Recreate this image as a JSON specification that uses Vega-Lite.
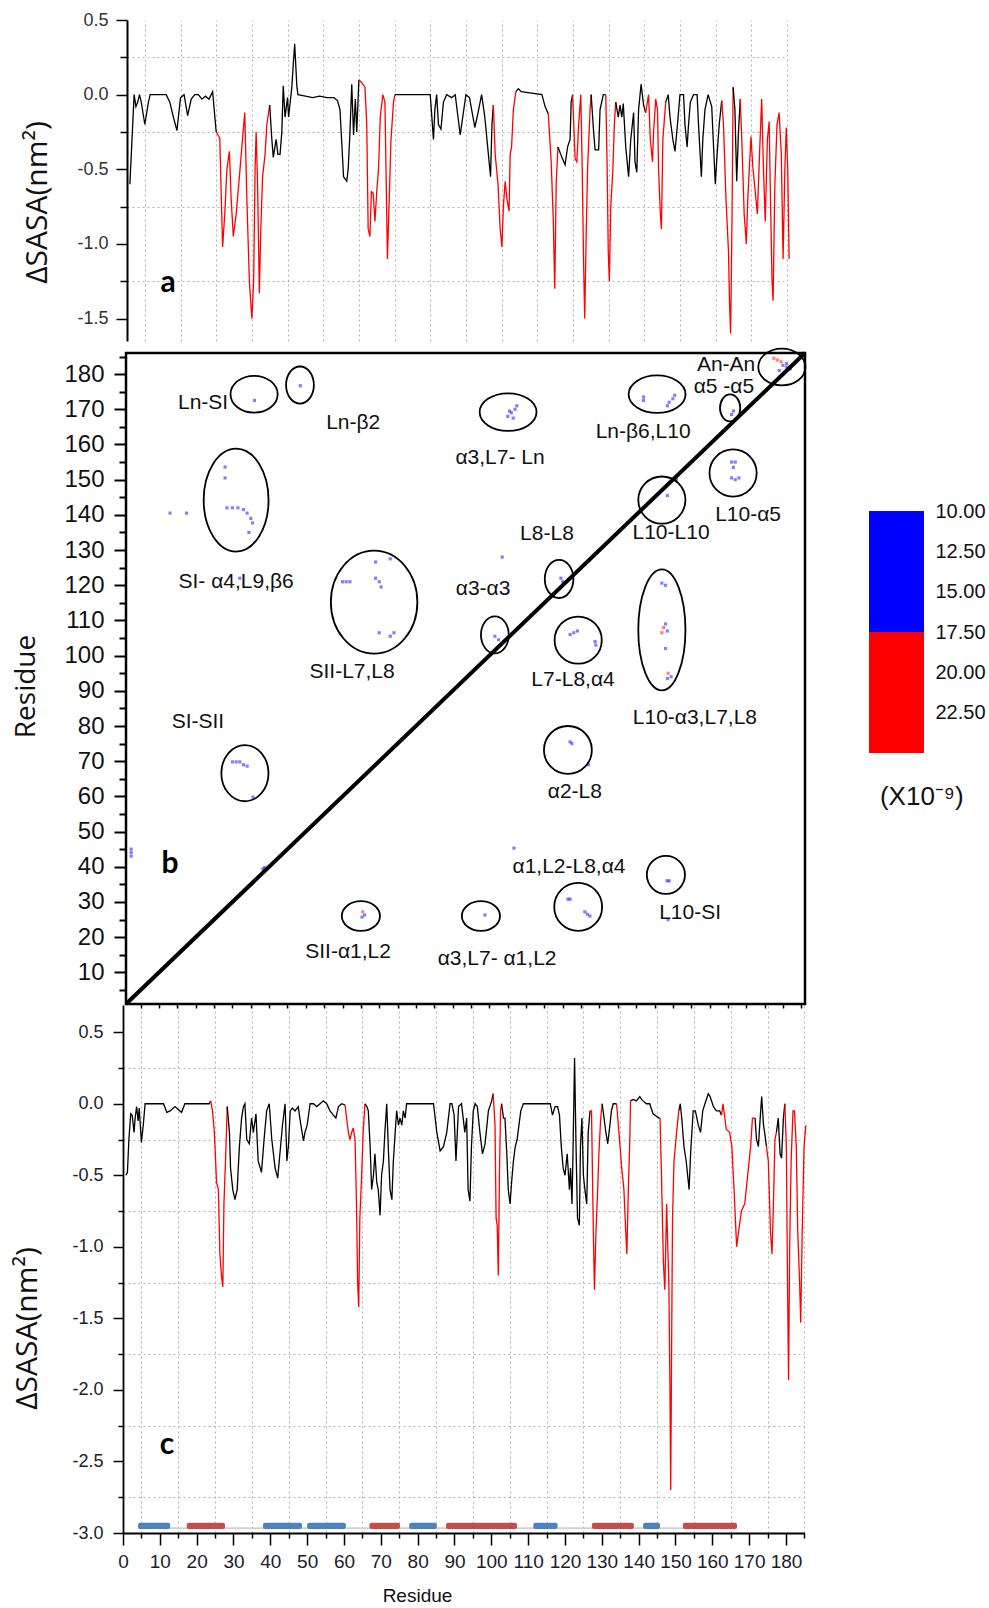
{
"$schema": "https://vega.github.io/schema/vega-lite/v6.json",
"width": 989, "height": 1608,
"autosize": {"type": "none"},
"padding": 0,
"background": "white",
"config": {
  "view": {"stroke": null},
  "axis": {"labelFont": "Liberation Sans", "titleFont": "Open Sans", "titleFontWeight": "normal", "domainColor": "#000", "tickColor": "#000", "labelOverlap": false, "labelFlush": false, "gridColor": "#b3b3b3", "gridDash": [2, 3], "gridWidth": 1, "labelColor": "#222", "titleColor": "#111"}
},
"datasets": {
"panelA": [
{"res":0.8,"dsasa":-0.6,"seg":1,"region":"other"},{"res":1.5,"dsasa":-0.25,"seg":1,"region":"other"},{"res":2,"dsasa":0,"seg":1,"region":"other"},{"res":2.5,"dsasa":-0.08,"seg":1,"region":"other"},{"res":3,"dsasa":-0.05,"seg":1,"region":"other"},{"res":3.5,"dsasa":0,"seg":1,"region":"other"},{"res":4,"dsasa":-0.05,"seg":1,"region":"other"},{"res":5,"dsasa":-0.2,"seg":1,"region":"other"},{"res":6,"dsasa":-0.05,"seg":1,"region":"other"},{"res":6.5,"dsasa":0,"seg":1,"region":"other"},{"res":11,"dsasa":0,"seg":1,"region":"other"},{"res":12,"dsasa":-0.05,"seg":1,"region":"other"},{"res":13,"dsasa":-0.15,"seg":1,"region":"other"},{"res":14,"dsasa":-0.24,"seg":1,"region":"other"},{"res":15,"dsasa":-0.02,"seg":1,"region":"other"},{"res":16,"dsasa":0,"seg":1,"region":"other"},{"res":17,"dsasa":-0.14,"seg":1,"region":"other"},{"res":18,"dsasa":-0.03,"seg":1,"region":"other"},{"res":19,"dsasa":0,"seg":1,"region":"other"},{"res":20,"dsasa":0,"seg":1,"region":"other"},{"res":21,"dsasa":-0.03,"seg":1,"region":"other"},{"res":22,"dsasa":-0.01,"seg":1,"region":"other"},{"res":23,"dsasa":-0.03,"seg":1,"region":"other"},{"res":24,"dsasa":0.02,"seg":1,"region":"other"},{"res":25,"dsasa":-0.25,"seg":1,"region":"other"},
{"res":25,"dsasa":-0.25,"seg":2,"region":"interface"},{"res":26,"dsasa":-0.29,"seg":2,"region":"interface"},{"res":26.8,"dsasa":-1.02,"seg":2,"region":"interface"},{"res":27.4,"dsasa":-0.8,"seg":2,"region":"interface"},{"res":28,"dsasa":-0.5,"seg":2,"region":"interface"},{"res":28.7,"dsasa":-0.38,"seg":2,"region":"interface"},{"res":29.2,"dsasa":-0.7,"seg":2,"region":"interface"},{"res":29.8,"dsasa":-0.95,"seg":2,"region":"interface"},{"res":30.6,"dsasa":-0.8,"seg":2,"region":"interface"},{"res":31.5,"dsasa":-0.55,"seg":2,"region":"interface"},{"res":32.2,"dsasa":-0.35,"seg":2,"region":"interface"},{"res":33,"dsasa":-0.12,"seg":2,"region":"interface"},{"res":33.6,"dsasa":-0.7,"seg":2,"region":"interface"},{"res":34.3,"dsasa":-1.25,"seg":2,"region":"interface"},{"res":35,"dsasa":-1.5,"seg":2,"region":"interface"},{"res":35.5,"dsasa":-1.25,"seg":2,"region":"interface"},{"res":35.9,"dsasa":-0.5,"seg":2,"region":"interface"},{"res":36.2,"dsasa":-0.25,"seg":2,"region":"interface"},{"res":36.6,"dsasa":-0.6,"seg":2,"region":"interface"},{"res":37.1,"dsasa":-1.33,"seg":2,"region":"interface"},{"res":37.5,"dsasa":-0.9,"seg":2,"region":"interface"},{"res":38,"dsasa":-0.55,"seg":2,"region":"interface"},{"res":38.7,"dsasa":-0.4,"seg":2,"region":"interface"},{"res":39.2,"dsasa":-0.2,"seg":2,"region":"interface"},{"res":40,"dsasa":-0.07,"seg":2,"region":"interface"},
{"res":40,"dsasa":-0.07,"seg":3,"region":"other"},{"res":40.6,"dsasa":-0.3,"seg":3,"region":"other"},{"res":41,"dsasa":-0.42,"seg":3,"region":"other"},{"res":41.8,"dsasa":-0.3,"seg":3,"region":"other"},{"res":42.3,"dsasa":-0.4,"seg":3,"region":"other"},{"res":42.9,"dsasa":-0.4,"seg":3,"region":"other"},{"res":43.4,"dsasa":-0.25,"seg":3,"region":"other"},{"res":43.8,"dsasa":0.06,"seg":3,"region":"other"},{"res":44.3,"dsasa":-0.15,"seg":3,"region":"other"},{"res":45,"dsasa":-0.02,"seg":3,"region":"other"},{"res":45.3,"dsasa":-0.15,"seg":3,"region":"other"},{"res":46.2,"dsasa":0.05,"seg":3,"region":"other"},{"res":46.6,"dsasa":0.2,"seg":3,"region":"other"},{"res":47,"dsasa":0.34,"seg":3,"region":"other"},{"res":47.6,"dsasa":0.06,"seg":3,"region":"other"},{"res":47.9,"dsasa":0,"seg":3,"region":"other"},{"res":50,"dsasa":-0.01,"seg":3,"region":"other"},{"res":52,"dsasa":-0.02,"seg":3,"region":"other"},{"res":54,"dsasa":-0.01,"seg":3,"region":"other"},{"res":56,"dsasa":-0.02,"seg":3,"region":"other"},{"res":58,"dsasa":-0.02,"seg":3,"region":"other"},{"res":59,"dsasa":-0.04,"seg":3,"region":"other"},{"res":59.7,"dsasa":-0.1,"seg":3,"region":"other"},{"res":60.7,"dsasa":-0.55,"seg":3,"region":"other"},{"res":61.6,"dsasa":-0.58,"seg":3,"region":"other"},{"res":62,"dsasa":-0.5,"seg":3,"region":"other"},{"res":62.5,"dsasa":-0.25,"seg":3,"region":"other"},{"res":63,"dsasa":0.07,"seg":3,"region":"other"},{"res":63.5,"dsasa":-0.27,"seg":3,"region":"other"},{"res":64,"dsasa":-0.03,"seg":3,"region":"other"},{"res":64.4,"dsasa":-0.25,"seg":3,"region":"other"},{"res":65,"dsasa":0.1,"seg":3,"region":"other"},
{"res":65,"dsasa":0.1,"seg":4,"region":"interface"},{"res":65.8,"dsasa":0.08,"seg":4,"region":"interface"},{"res":66.7,"dsasa":0.05,"seg":4,"region":"interface"},{"res":67.2,"dsasa":-0.2,"seg":4,"region":"interface"},{"res":67.6,"dsasa":-0.9,"seg":4,"region":"interface"},{"res":68.1,"dsasa":-0.95,"seg":4,"region":"interface"},{"res":68.5,"dsasa":-0.65,"seg":4,"region":"interface"},{"res":69,"dsasa":-0.66,"seg":4,"region":"interface"},{"res":69.5,"dsasa":-0.85,"seg":4,"region":"interface"},{"res":70,"dsasa":-0.65,"seg":4,"region":"interface"},{"res":70.5,"dsasa":-0.5,"seg":4,"region":"interface"},{"res":71,"dsasa":-0.15,"seg":4,"region":"interface"},{"res":71.7,"dsasa":0,"seg":4,"region":"interface"},{"res":72.3,"dsasa":-0.05,"seg":4,"region":"interface"},{"res":72.8,"dsasa":-0.8,"seg":4,"region":"interface"},{"res":73,"dsasa":-1.1,"seg":4,"region":"interface"},{"res":73.5,"dsasa":-0.7,"seg":4,"region":"interface"},{"res":74,"dsasa":-0.3,"seg":4,"region":"interface"},{"res":74.7,"dsasa":-0.05,"seg":4,"region":"interface"},{"res":75.1,"dsasa":0,"seg":4,"region":"interface"},
{"res":75.1,"dsasa":0,"seg":5,"region":"other"},{"res":85,"dsasa":0,"seg":5,"region":"other"},{"res":85.9,"dsasa":-0.3,"seg":5,"region":"other"},{"res":86.3,"dsasa":-0.1,"seg":5,"region":"other"},{"res":86.8,"dsasa":0,"seg":5,"region":"other"},{"res":87.3,"dsasa":-0.2,"seg":5,"region":"other"},{"res":88,"dsasa":-0.23,"seg":5,"region":"other"},{"res":88.7,"dsasa":-0.05,"seg":5,"region":"other"},{"res":89.6,"dsasa":0,"seg":5,"region":"other"},{"res":91,"dsasa":-0.02,"seg":5,"region":"other"},{"res":92,"dsasa":0,"seg":5,"region":"other"},{"res":93.4,"dsasa":-0.27,"seg":5,"region":"other"},{"res":95,"dsasa":0,"seg":5,"region":"other"},{"res":96,"dsasa":-0.02,"seg":5,"region":"other"},{"res":97.5,"dsasa":-0.22,"seg":5,"region":"other"},{"res":98.4,"dsasa":-0.12,"seg":5,"region":"other"},{"res":99.4,"dsasa":0,"seg":5,"region":"other"},{"res":100.3,"dsasa":-0.15,"seg":5,"region":"other"},{"res":101.3,"dsasa":-0.4,"seg":5,"region":"other"},{"res":101.9,"dsasa":-0.55,"seg":5,"region":"other"},{"res":102.3,"dsasa":-0.2,"seg":5,"region":"other"},{"res":102.7,"dsasa":-0.07,"seg":5,"region":"other"},
{"res":102.7,"dsasa":-0.07,"seg":6,"region":"interface"},{"res":103.2,"dsasa":-0.4,"seg":6,"region":"interface"},{"res":104,"dsasa":-0.6,"seg":6,"region":"interface"},{"res":104.6,"dsasa":-0.9,"seg":6,"region":"interface"},{"res":105.1,"dsasa":-1.02,"seg":6,"region":"interface"},{"res":105.5,"dsasa":-0.75,"seg":6,"region":"interface"},{"res":106,"dsasa":-0.58,"seg":6,"region":"interface"},{"res":106.5,"dsasa":-0.7,"seg":6,"region":"interface"},{"res":107.1,"dsasa":-0.78,"seg":6,"region":"interface"},{"res":107.4,"dsasa":-0.4,"seg":6,"region":"interface"},{"res":107.8,"dsasa":-0.35,"seg":6,"region":"interface"},{"res":108.3,"dsasa":-0.1,"seg":6,"region":"interface"},{"res":109,"dsasa":0.02,"seg":6,"region":"interface"},
{"res":109,"dsasa":0.02,"seg":7,"region":"other"},{"res":109.7,"dsasa":0.04,"seg":7,"region":"other"},{"res":110.5,"dsasa":0.02,"seg":7,"region":"other"},{"res":116.3,"dsasa":0,"seg":7,"region":"other"},{"res":117.2,"dsasa":-0.08,"seg":7,"region":"other"},{"res":118.1,"dsasa":-0.13,"seg":7,"region":"other"},
{"res":118.1,"dsasa":-0.13,"seg":8,"region":"interface"},{"res":118.9,"dsasa":-0.45,"seg":8,"region":"interface"},{"res":119.5,"dsasa":-0.85,"seg":8,"region":"interface"},{"res":119.9,"dsasa":-1.3,"seg":8,"region":"interface"},{"res":120.3,"dsasa":-0.6,"seg":8,"region":"interface"},{"res":120.8,"dsasa":-0.35,"seg":8,"region":"interface"},
{"res":120.8,"dsasa":-0.35,"seg":9,"region":"other"},{"res":121.9,"dsasa":-0.42,"seg":9,"region":"other"},{"res":122.8,"dsasa":-0.47,"seg":9,"region":"other"},{"res":123.5,"dsasa":-0.35,"seg":9,"region":"other"},{"res":124.2,"dsasa":-0.3,"seg":9,"region":"other"},{"res":124.5,"dsasa":-0.05,"seg":9,"region":"other"},{"res":124.9,"dsasa":0,"seg":9,"region":"other"},
{"res":124.9,"dsasa":0,"seg":10,"region":"interface"},{"res":125.6,"dsasa":-0.43,"seg":10,"region":"interface"},{"res":126.1,"dsasa":-0.45,"seg":10,"region":"interface"},{"res":126.6,"dsasa":-0.2,"seg":10,"region":"interface"},{"res":127.2,"dsasa":0,"seg":10,"region":"interface"},{"res":127.6,"dsasa":-0.5,"seg":10,"region":"interface"},{"res":128,"dsasa":-1.15,"seg":10,"region":"interface"},{"res":128.3,"dsasa":-1.5,"seg":10,"region":"interface"},{"res":128.7,"dsasa":-0.95,"seg":10,"region":"interface"},{"res":129.1,"dsasa":-0.5,"seg":10,"region":"interface"},{"res":129.8,"dsasa":-0.1,"seg":10,"region":"interface"},{"res":130.1,"dsasa":0,"seg":10,"region":"interface"},
{"res":130.1,"dsasa":0,"seg":11,"region":"other"},{"res":130.8,"dsasa":-0.25,"seg":11,"region":"other"},{"res":131.2,"dsasa":-0.37,"seg":11,"region":"other"},{"res":132.2,"dsasa":-0.37,"seg":11,"region":"other"},{"res":132.6,"dsasa":-0.1,"seg":11,"region":"other"},{"res":133.5,"dsasa":0,"seg":11,"region":"other"},{"res":134.2,"dsasa":0,"seg":11,"region":"other"},
{"res":134.2,"dsasa":0,"seg":12,"region":"interface"},{"res":134.6,"dsasa":-0.5,"seg":12,"region":"interface"},{"res":134.9,"dsasa":-1.05,"seg":12,"region":"interface"},{"res":135.2,"dsasa":-1.25,"seg":12,"region":"interface"},{"res":135.6,"dsasa":-0.75,"seg":12,"region":"interface"},{"res":136.2,"dsasa":-0.5,"seg":12,"region":"interface"},{"res":136.6,"dsasa":-0.2,"seg":12,"region":"interface"},{"res":137,"dsasa":-0.05,"seg":12,"region":"interface"},
{"res":137,"dsasa":-0.05,"seg":13,"region":"other"},{"res":137.7,"dsasa":-0.15,"seg":13,"region":"other"},{"res":138.2,"dsasa":-0.07,"seg":13,"region":"other"},{"res":138.7,"dsasa":-0.15,"seg":13,"region":"other"},{"res":139.1,"dsasa":-0.06,"seg":13,"region":"other"},{"res":139.8,"dsasa":-0.35,"seg":13,"region":"other"},{"res":140.6,"dsasa":-0.55,"seg":13,"region":"other"},{"res":141.2,"dsasa":-0.3,"seg":13,"region":"other"},{"res":142,"dsasa":-0.12,"seg":13,"region":"other"},{"res":142.4,"dsasa":-0.45,"seg":13,"region":"other"},{"res":142.9,"dsasa":-0.52,"seg":13,"region":"other"},{"res":143.4,"dsasa":-0.1,"seg":13,"region":"other"},{"res":144.1,"dsasa":0.07,"seg":13,"region":"other"},{"res":144.8,"dsasa":-0.07,"seg":13,"region":"other"},{"res":145.4,"dsasa":-0.12,"seg":13,"region":"other"},
{"res":145.4,"dsasa":-0.12,"seg":14,"region":"interface"},{"res":146.2,"dsasa":0,"seg":14,"region":"interface"},{"res":146.7,"dsasa":-0.3,"seg":14,"region":"interface"},{"res":147.3,"dsasa":-0.45,"seg":14,"region":"interface"},{"res":147.6,"dsasa":-0.25,"seg":14,"region":"interface"},{"res":148.2,"dsasa":-0.03,"seg":14,"region":"interface"},{"res":148.7,"dsasa":-0.1,"seg":14,"region":"interface"},{"res":149,"dsasa":-0.5,"seg":14,"region":"interface"},{"res":149.5,"dsasa":-0.8,"seg":14,"region":"interface"},{"res":149.8,"dsasa":-0.9,"seg":14,"region":"interface"},{"res":150.2,"dsasa":-0.3,"seg":14,"region":"interface"},{"res":151,"dsasa":-0.05,"seg":14,"region":"interface"},
{"res":151,"dsasa":-0.05,"seg":15,"region":"other"},{"res":151.7,"dsasa":0,"seg":15,"region":"other"},{"res":152.2,"dsasa":-0.15,"seg":15,"region":"other"},{"res":153,"dsasa":-0.3,"seg":15,"region":"other"},{"res":153.6,"dsasa":-0.38,"seg":15,"region":"other"},{"res":154.3,"dsasa":-0.2,"seg":15,"region":"other"},{"res":155,"dsasa":0,"seg":15,"region":"other"},{"res":156,"dsasa":0,"seg":15,"region":"other"},{"res":156.4,"dsasa":-0.2,"seg":15,"region":"other"},{"res":157,"dsasa":-0.35,"seg":15,"region":"other"},{"res":157.4,"dsasa":-0.2,"seg":15,"region":"other"},{"res":157.9,"dsasa":-0.05,"seg":15,"region":"other"},{"res":158.8,"dsasa":0,"seg":15,"region":"other"},{"res":159.8,"dsasa":0,"seg":15,"region":"other"},{"res":160.2,"dsasa":-0.2,"seg":15,"region":"other"},{"res":161,"dsasa":-0.55,"seg":15,"region":"other"},{"res":161.4,"dsasa":-0.3,"seg":15,"region":"other"},{"res":162,"dsasa":-0.1,"seg":15,"region":"other"},{"res":162.9,"dsasa":0,"seg":15,"region":"other"},{"res":163.9,"dsasa":-0.08,"seg":15,"region":"other"},{"res":164.9,"dsasa":-0.6,"seg":15,"region":"other"},{"res":165.4,"dsasa":-0.4,"seg":15,"region":"other"},{"res":166,"dsasa":-0.2,"seg":15,"region":"other"},{"res":166.7,"dsasa":-0.04,"seg":15,"region":"other"},
{"res":166.7,"dsasa":-0.04,"seg":16,"region":"interface"},{"res":167.2,"dsasa":-0.2,"seg":16,"region":"interface"},{"res":167.9,"dsasa":-0.7,"seg":16,"region":"interface"},{"res":168.6,"dsasa":-1.05,"seg":16,"region":"interface"},{"res":168.9,"dsasa":-1.4,"seg":16,"region":"interface"},{"res":169.2,"dsasa":-1.6,"seg":16,"region":"interface"},{"res":169.6,"dsasa":-0.8,"seg":16,"region":"interface"},{"res":169.9,"dsasa":0.05,"seg":16,"region":"interface"},
{"res":169.9,"dsasa":0.05,"seg":17,"region":"other"},{"res":170.4,"dsasa":-0.1,"seg":17,"region":"other"},{"res":170.9,"dsasa":-0.58,"seg":17,"region":"other"},{"res":171.4,"dsasa":-0.25,"seg":17,"region":"other"},{"res":171.9,"dsasa":-0.03,"seg":17,"region":"other"},
{"res":171.9,"dsasa":-0.03,"seg":18,"region":"interface"},{"res":172.4,"dsasa":-0.35,"seg":18,"region":"interface"},{"res":173,"dsasa":-0.8,"seg":18,"region":"interface"},{"res":173.6,"dsasa":-1.0,"seg":18,"region":"interface"},{"res":174,"dsasa":-0.7,"seg":18,"region":"interface"},{"res":174.9,"dsasa":-0.28,"seg":18,"region":"interface"},{"res":175.4,"dsasa":-0.48,"seg":18,"region":"interface"},{"res":176.1,"dsasa":-0.65,"seg":18,"region":"interface"},{"res":176.7,"dsasa":-0.8,"seg":18,"region":"interface"},{"res":177.3,"dsasa":-0.4,"seg":18,"region":"interface"},{"res":177.9,"dsasa":-0.03,"seg":18,"region":"interface"},{"res":178.4,"dsasa":-0.5,"seg":18,"region":"interface"},{"res":178.9,"dsasa":-0.85,"seg":18,"region":"interface"},{"res":179.5,"dsasa":-0.3,"seg":18,"region":"interface"},{"res":180,"dsasa":-0.18,"seg":18,"region":"interface"},{"res":180.3,"dsasa":-0.6,"seg":18,"region":"interface"},{"res":180.8,"dsasa":-1.25,"seg":18,"region":"interface"},{"res":181.1,"dsasa":-1.38,"seg":18,"region":"interface"},{"res":181.6,"dsasa":-0.6,"seg":18,"region":"interface"},{"res":182.2,"dsasa":-0.2,"seg":18,"region":"interface"},{"res":182.8,"dsasa":-0.12,"seg":18,"region":"interface"},{"res":183.4,"dsasa":-0.4,"seg":18,"region":"interface"},{"res":183.9,"dsasa":-1.1,"seg":18,"region":"interface"},{"res":184.4,"dsasa":-0.5,"seg":18,"region":"interface"},{"res":184.8,"dsasa":-0.22,"seg":18,"region":"interface"},{"res":185.2,"dsasa":-0.5,"seg":18,"region":"interface"},{"res":185.6,"dsasa":-1.1,"seg":18,"region":"interface"}
],
"panelC": [
{"res":0.8,"dsasa":-0.5,"seg":1,"region":"other"},{"res":1.2,"dsasa":-0.48,"seg":1,"region":"other"},{"res":1.6,"dsasa":-0.25,"seg":1,"region":"other"},{"res":2.1,"dsasa":-0.07,"seg":1,"region":"other"},{"res":2.5,"dsasa":-0.08,"seg":1,"region":"other"},{"res":3,"dsasa":-0.2,"seg":1,"region":"other"},{"res":3.3,"dsasa":-0.1,"seg":1,"region":"other"},{"res":3.7,"dsasa":-0.02,"seg":1,"region":"other"},{"res":4.1,"dsasa":-0.12,"seg":1,"region":"other"},{"res":4.4,"dsasa":-0.03,"seg":1,"region":"other"},{"res":5,"dsasa":-0.27,"seg":1,"region":"other"},{"res":5.5,"dsasa":-0.15,"seg":1,"region":"other"},{"res":6,"dsasa":0,"seg":1,"region":"other"},{"res":11,"dsasa":0,"seg":1,"region":"other"},{"res":11.9,"dsasa":-0.06,"seg":1,"region":"other"},{"res":12.8,"dsasa":-0.05,"seg":1,"region":"other"},{"res":14.1,"dsasa":-0.02,"seg":1,"region":"other"},{"res":15,"dsasa":-0.04,"seg":1,"region":"other"},{"res":15.9,"dsasa":-0.06,"seg":1,"region":"other"},{"res":16.8,"dsasa":0,"seg":1,"region":"other"},{"res":23.4,"dsasa":0,"seg":1,"region":"other"},{"res":23.8,"dsasa":0.02,"seg":1,"region":"other"},
{"res":23.8,"dsasa":0.02,"seg":2,"region":"interface"},{"res":24.3,"dsasa":-0.05,"seg":2,"region":"interface"},{"res":24.8,"dsasa":-0.2,"seg":2,"region":"interface"},{"res":25.4,"dsasa":-0.55,"seg":2,"region":"interface"},{"res":25.9,"dsasa":-0.6,"seg":2,"region":"interface"},{"res":26.3,"dsasa":-1.05,"seg":2,"region":"interface"},{"res":26.8,"dsasa":-1.22,"seg":2,"region":"interface"},{"res":27.1,"dsasa":-1.28,"seg":2,"region":"interface"},{"res":27.4,"dsasa":-0.7,"seg":2,"region":"interface"},{"res":27.9,"dsasa":-0.35,"seg":2,"region":"interface"},{"res":28.3,"dsasa":-0.02,"seg":2,"region":"interface"},
{"res":28.3,"dsasa":-0.02,"seg":3,"region":"other"},{"res":28.9,"dsasa":-0.2,"seg":3,"region":"other"},{"res":29.2,"dsasa":-0.45,"seg":3,"region":"other"},{"res":29.8,"dsasa":-0.6,"seg":3,"region":"other"},{"res":30.4,"dsasa":-0.67,"seg":3,"region":"other"},{"res":31,"dsasa":-0.6,"seg":3,"region":"other"},{"res":31.6,"dsasa":-0.3,"seg":3,"region":"other"},{"res":32.2,"dsasa":-0.1,"seg":3,"region":"other"},{"res":32.7,"dsasa":-0.02,"seg":3,"region":"other"},{"res":33.1,"dsasa":0,"seg":3,"region":"other"},{"res":33.6,"dsasa":-0.25,"seg":3,"region":"other"},{"res":34.3,"dsasa":-0.28,"seg":3,"region":"other"},{"res":34.9,"dsasa":-0.1,"seg":3,"region":"other"},{"res":35.4,"dsasa":-0.2,"seg":3,"region":"other"},{"res":36.1,"dsasa":-0.07,"seg":3,"region":"other"},{"res":36.7,"dsasa":-0.4,"seg":3,"region":"other"},{"res":37.6,"dsasa":-0.48,"seg":3,"region":"other"},{"res":38.3,"dsasa":-0.25,"seg":3,"region":"other"},{"res":39,"dsasa":-0.05,"seg":3,"region":"other"},{"res":39.7,"dsasa":0,"seg":3,"region":"other"},{"res":40.4,"dsasa":-0.25,"seg":3,"region":"other"},{"res":41.3,"dsasa":-0.45,"seg":3,"region":"other"},{"res":42,"dsasa":-0.52,"seg":3,"region":"other"},{"res":42.6,"dsasa":-0.35,"seg":3,"region":"other"},{"res":43.3,"dsasa":-0.15,"seg":3,"region":"other"},{"res":44,"dsasa":0,"seg":3,"region":"other"},{"res":44.5,"dsasa":-0.4,"seg":3,"region":"other"},{"res":44.9,"dsasa":-0.3,"seg":3,"region":"other"},{"res":45.4,"dsasa":-0.05,"seg":3,"region":"other"},{"res":46,"dsasa":-0.03,"seg":3,"region":"other"},{"res":46.7,"dsasa":-0.05,"seg":3,"region":"other"},{"res":47.6,"dsasa":-0.02,"seg":3,"region":"other"},{"res":48,"dsasa":-0.1,"seg":3,"region":"other"},{"res":49,"dsasa":-0.26,"seg":3,"region":"other"},{"res":49.4,"dsasa":-0.2,"seg":3,"region":"other"},{"res":50,"dsasa":-0.15,"seg":3,"region":"other"},{"res":50.8,"dsasa":0,"seg":3,"region":"other"},{"res":51.7,"dsasa":0,"seg":3,"region":"other"},{"res":52.6,"dsasa":-0.02,"seg":3,"region":"other"},{"res":53.5,"dsasa":0,"seg":3,"region":"other"},{"res":54.4,"dsasa":0.02,"seg":3,"region":"other"},{"res":55.3,"dsasa":0,"seg":3,"region":"other"},{"res":56.2,"dsasa":-0.05,"seg":3,"region":"other"},{"res":57.1,"dsasa":-0.08,"seg":3,"region":"other"},{"res":57.8,"dsasa":-0.1,"seg":3,"region":"other"},{"res":58.5,"dsasa":-0.02,"seg":3,"region":"other"},{"res":59.4,"dsasa":0,"seg":3,"region":"other"},{"res":60.3,"dsasa":-0.01,"seg":3,"region":"other"},
{"res":60.3,"dsasa":-0.01,"seg":4,"region":"interface"},{"res":60.7,"dsasa":-0.1,"seg":4,"region":"interface"},{"res":61.2,"dsasa":-0.2,"seg":4,"region":"interface"},{"res":61.6,"dsasa":-0.25,"seg":4,"region":"interface"},{"res":62.1,"dsasa":-0.2,"seg":4,"region":"interface"},{"res":62.5,"dsasa":-0.17,"seg":4,"region":"interface"},{"res":63,"dsasa":-0.25,"seg":4,"region":"interface"},{"res":63.4,"dsasa":-0.7,"seg":4,"region":"interface"},{"res":63.7,"dsasa":-1.25,"seg":4,"region":"interface"},{"res":64,"dsasa":-1.42,"seg":4,"region":"interface"},{"res":64.3,"dsasa":-0.8,"seg":4,"region":"interface"},{"res":64.8,"dsasa":-0.5,"seg":4,"region":"interface"},{"res":65.2,"dsasa":-0.2,"seg":4,"region":"interface"},{"res":65.7,"dsasa":0,"seg":4,"region":"interface"},
{"res":65.7,"dsasa":0,"seg":5,"region":"other"},{"res":66.2,"dsasa":-0.02,"seg":5,"region":"other"},{"res":66.6,"dsasa":-0.05,"seg":5,"region":"other"},{"res":67.1,"dsasa":-0.3,"seg":5,"region":"other"},{"res":67.5,"dsasa":-0.6,"seg":5,"region":"other"},{"res":68,"dsasa":-0.5,"seg":5,"region":"other"},{"res":68.4,"dsasa":-0.35,"seg":5,"region":"other"},{"res":68.9,"dsasa":-0.55,"seg":5,"region":"other"},{"res":69.3,"dsasa":-0.6,"seg":5,"region":"other"},{"res":69.8,"dsasa":-0.78,"seg":5,"region":"other"},{"res":70.2,"dsasa":-0.5,"seg":5,"region":"other"},{"res":70.7,"dsasa":-0.4,"seg":5,"region":"other"},{"res":71.1,"dsasa":-0.2,"seg":5,"region":"other"},{"res":71.6,"dsasa":0,"seg":5,"region":"other"},{"res":72.1,"dsasa":-0.35,"seg":5,"region":"other"},{"res":72.5,"dsasa":-0.6,"seg":5,"region":"other"},{"res":73,"dsasa":-0.67,"seg":5,"region":"other"},{"res":73.4,"dsasa":-0.4,"seg":5,"region":"other"},{"res":73.9,"dsasa":-0.2,"seg":5,"region":"other"},{"res":74.3,"dsasa":-0.05,"seg":5,"region":"other"},{"res":74.8,"dsasa":-0.15,"seg":5,"region":"other"},{"res":75.2,"dsasa":-0.1,"seg":5,"region":"other"},{"res":75.7,"dsasa":-0.15,"seg":5,"region":"other"},{"res":76.1,"dsasa":-0.05,"seg":5,"region":"other"},{"res":76.6,"dsasa":-0.1,"seg":5,"region":"other"},{"res":77,"dsasa":0,"seg":5,"region":"other"},{"res":84.3,"dsasa":0,"seg":5,"region":"other"},{"res":85.2,"dsasa":-0.2,"seg":5,"region":"other"},{"res":86.1,"dsasa":-0.33,"seg":5,"region":"other"},{"res":87,"dsasa":-0.3,"seg":5,"region":"other"},{"res":87.9,"dsasa":-0.2,"seg":5,"region":"other"},{"res":88.8,"dsasa":0,"seg":5,"region":"other"},{"res":89.3,"dsasa":0,"seg":5,"region":"other"},{"res":89.9,"dsasa":-0.08,"seg":5,"region":"other"},{"res":90.4,"dsasa":-0.4,"seg":5,"region":"other"},{"res":91.1,"dsasa":-0.02,"seg":5,"region":"other"},{"res":91.9,"dsasa":0,"seg":5,"region":"other"},{"res":92.8,"dsasa":-0.2,"seg":5,"region":"other"},{"res":93.3,"dsasa":-0.1,"seg":5,"region":"other"},{"res":93.7,"dsasa":-0.6,"seg":5,"region":"other"},{"res":94.2,"dsasa":-0.68,"seg":5,"region":"other"},{"res":94.6,"dsasa":-0.3,"seg":5,"region":"other"},{"res":95.1,"dsasa":-0.05,"seg":5,"region":"other"},{"res":95.6,"dsasa":0,"seg":5,"region":"other"},{"res":96.2,"dsasa":-0.02,"seg":5,"region":"other"},{"res":96.9,"dsasa":-0.2,"seg":5,"region":"other"},{"res":97.6,"dsasa":-0.35,"seg":5,"region":"other"},{"res":98.3,"dsasa":-0.28,"seg":5,"region":"other"},{"res":99.2,"dsasa":-0.05,"seg":5,"region":"other"},{"res":100.1,"dsasa":0.02,"seg":5,"region":"other"},{"res":100.5,"dsasa":0.07,"seg":5,"region":"other"},
{"res":100.5,"dsasa":0.07,"seg":6,"region":"interface"},{"res":101,"dsasa":-0.15,"seg":6,"region":"interface"},{"res":101.3,"dsasa":-0.8,"seg":6,"region":"interface"},{"res":101.6,"dsasa":-0.85,"seg":6,"region":"interface"},{"res":101.9,"dsasa":-1.2,"seg":6,"region":"interface"},{"res":102.2,"dsasa":-0.5,"seg":6,"region":"interface"},{"res":102.5,"dsasa":-0.05,"seg":6,"region":"interface"},{"res":102.8,"dsasa":0,"seg":6,"region":"interface"},
{"res":102.8,"dsasa":0,"seg":7,"region":"other"},{"res":103.3,"dsasa":-0.1,"seg":7,"region":"other"},{"res":103.7,"dsasa":-0.1,"seg":7,"region":"other"},{"res":104.2,"dsasa":-0.35,"seg":7,"region":"other"},{"res":104.6,"dsasa":-0.6,"seg":7,"region":"other"},{"res":105.1,"dsasa":-0.7,"seg":7,"region":"other"},{"res":105.5,"dsasa":-0.55,"seg":7,"region":"other"},{"res":106,"dsasa":-0.4,"seg":7,"region":"other"},{"res":106.5,"dsasa":-0.3,"seg":7,"region":"other"},{"res":107,"dsasa":-0.25,"seg":7,"region":"other"},{"res":107.5,"dsasa":-0.15,"seg":7,"region":"other"},{"res":108,"dsasa":-0.05,"seg":7,"region":"other"},{"res":108.7,"dsasa":0,"seg":7,"region":"other"},{"res":116,"dsasa":0,"seg":7,"region":"other"},{"res":116.6,"dsasa":-0.08,"seg":7,"region":"other"},{"res":117.3,"dsasa":-0.02,"seg":7,"region":"other"},{"res":118,"dsasa":-0.02,"seg":7,"region":"other"},{"res":118.5,"dsasa":-0.08,"seg":7,"region":"other"},{"res":119,"dsasa":-0.3,"seg":7,"region":"other"},{"res":119.5,"dsasa":-0.45,"seg":7,"region":"other"},{"res":120,"dsasa":-0.5,"seg":7,"region":"other"},{"res":120.6,"dsasa":-0.35,"seg":7,"region":"other"},{"res":121.2,"dsasa":-0.6,"seg":7,"region":"other"},{"res":121.5,"dsasa":-0.45,"seg":7,"region":"other"},{"res":121.9,"dsasa":-0.7,"seg":7,"region":"other"},{"res":122.2,"dsasa":-0.3,"seg":7,"region":"other"},{"res":122.6,"dsasa":0.32,"seg":7,"region":"other"},{"res":123,"dsasa":-0.3,"seg":7,"region":"other"},{"res":123.4,"dsasa":-0.8,"seg":7,"region":"other"},{"res":123.9,"dsasa":-0.85,"seg":7,"region":"other"},{"res":124.2,"dsasa":-0.3,"seg":7,"region":"other"},{"res":124.6,"dsasa":-0.1,"seg":7,"region":"other"},{"res":125,"dsasa":-0.5,"seg":7,"region":"other"},{"res":125.4,"dsasa":-0.6,"seg":7,"region":"other"},{"res":125.9,"dsasa":-0.7,"seg":7,"region":"other"},{"res":126.3,"dsasa":-0.2,"seg":7,"region":"other"},{"res":126.8,"dsasa":-0.05,"seg":7,"region":"other"},
{"res":126.8,"dsasa":-0.05,"seg":8,"region":"interface"},{"res":127.2,"dsasa":-0.05,"seg":8,"region":"interface"},{"res":127.7,"dsasa":-0.9,"seg":8,"region":"interface"},{"res":128,"dsasa":-1.3,"seg":8,"region":"interface"},{"res":128.4,"dsasa":-0.9,"seg":8,"region":"interface"},{"res":128.8,"dsasa":-0.65,"seg":8,"region":"interface"},{"res":129.2,"dsasa":-0.35,"seg":8,"region":"interface"},{"res":129.7,"dsasa":-0.1,"seg":8,"region":"interface"},{"res":130.1,"dsasa":0,"seg":8,"region":"interface"},
{"res":130.1,"dsasa":0,"seg":9,"region":"other"},{"res":130.6,"dsasa":-0.1,"seg":9,"region":"other"},{"res":131.1,"dsasa":-0.2,"seg":9,"region":"other"},{"res":131.6,"dsasa":-0.28,"seg":9,"region":"other"},{"res":132.2,"dsasa":-0.15,"seg":9,"region":"other"},{"res":132.6,"dsasa":-0.05,"seg":9,"region":"other"},{"res":133.1,"dsasa":0,"seg":9,"region":"other"},{"res":134,"dsasa":0,"seg":9,"region":"other"},
{"res":134,"dsasa":0,"seg":10,"region":"interface"},{"res":134.5,"dsasa":-0.15,"seg":10,"region":"interface"},{"res":135.4,"dsasa":-0.45,"seg":10,"region":"interface"},{"res":136,"dsasa":-0.6,"seg":10,"region":"interface"},{"res":136.5,"dsasa":-0.9,"seg":10,"region":"interface"},{"res":136.8,"dsasa":-1.05,"seg":10,"region":"interface"},{"res":137.2,"dsasa":-0.6,"seg":10,"region":"interface"},{"res":137.6,"dsasa":-0.25,"seg":10,"region":"interface"},{"res":137.8,"dsasa":0.02,"seg":10,"region":"interface"},
{"res":137.8,"dsasa":0.02,"seg":11,"region":"other"},{"res":138.5,"dsasa":0.03,"seg":11,"region":"other"},{"res":139.4,"dsasa":0.02,"seg":11,"region":"other"},{"res":140.3,"dsasa":0.05,"seg":11,"region":"other"},{"res":140.8,"dsasa":0.03,"seg":11,"region":"other"},{"res":141.2,"dsasa":0.02,"seg":11,"region":"other"},{"res":142.1,"dsasa":0,"seg":11,"region":"other"},{"res":143,"dsasa":0,"seg":11,"region":"other"},{"res":143.9,"dsasa":-0.07,"seg":11,"region":"other"},{"res":145.5,"dsasa":-0.1,"seg":11,"region":"other"},{"res":145.8,"dsasa":-0.1,"seg":11,"region":"other"},
{"res":145.8,"dsasa":-0.1,"seg":12,"region":"interface"},{"res":146.2,"dsasa":-0.5,"seg":12,"region":"interface"},{"res":146.7,"dsasa":-1.1,"seg":12,"region":"interface"},{"res":147.1,"dsasa":-1.3,"seg":12,"region":"interface"},{"res":147.6,"dsasa":-0.7,"seg":12,"region":"interface"},{"res":147.9,"dsasa":-1.0,"seg":12,"region":"interface"},{"res":148.2,"dsasa":-1.25,"seg":12,"region":"interface"},{"res":148.5,"dsasa":-2.0,"seg":12,"region":"interface"},{"res":148.7,"dsasa":-2.7,"seg":12,"region":"interface"},{"res":149,"dsasa":-1.5,"seg":12,"region":"interface"},{"res":149.2,"dsasa":-0.8,"seg":12,"region":"interface"},{"res":149.6,"dsasa":-0.4,"seg":12,"region":"interface"},{"res":150.3,"dsasa":-0.2,"seg":12,"region":"interface"},{"res":150.9,"dsasa":-0.05,"seg":12,"region":"interface"},
{"res":150.9,"dsasa":-0.05,"seg":13,"region":"other"},{"res":151.3,"dsasa":0,"seg":13,"region":"other"},{"res":151.7,"dsasa":-0.1,"seg":13,"region":"other"},{"res":152.3,"dsasa":-0.3,"seg":13,"region":"other"},{"res":152.9,"dsasa":-0.4,"seg":13,"region":"other"},{"res":153.7,"dsasa":-0.6,"seg":13,"region":"other"},{"res":154.1,"dsasa":-0.35,"seg":13,"region":"other"},{"res":154.8,"dsasa":-0.05,"seg":13,"region":"other"},{"res":155.4,"dsasa":-0.05,"seg":13,"region":"other"},{"res":156.2,"dsasa":-0.15,"seg":13,"region":"other"},{"res":156.8,"dsasa":-0.2,"seg":13,"region":"other"},{"res":157.4,"dsasa":-0.05,"seg":13,"region":"other"},{"res":158,"dsasa":0,"seg":13,"region":"other"},{"res":158.9,"dsasa":0.07,"seg":13,"region":"other"},{"res":159.4,"dsasa":0.05,"seg":13,"region":"other"},{"res":160.3,"dsasa":-0.02,"seg":13,"region":"other"},{"res":161.1,"dsasa":-0.05,"seg":13,"region":"other"},{"res":162,"dsasa":-0.05,"seg":13,"region":"other"},{"res":162.5,"dsasa":-0.08,"seg":13,"region":"other"},
{"res":162.5,"dsasa":-0.08,"seg":14,"region":"interface"},{"res":162.9,"dsasa":0,"seg":14,"region":"interface"},{"res":163.8,"dsasa":-0.18,"seg":14,"region":"interface"},{"res":164.7,"dsasa":-0.2,"seg":14,"region":"interface"},{"res":165.3,"dsasa":-0.3,"seg":14,"region":"interface"},{"res":165.9,"dsasa":-0.6,"seg":14,"region":"interface"},{"res":166.6,"dsasa":-1.0,"seg":14,"region":"interface"},{"res":167.1,"dsasa":-0.9,"seg":14,"region":"interface"},{"res":167.9,"dsasa":-0.75,"seg":14,"region":"interface"},{"res":168.8,"dsasa":-0.7,"seg":14,"region":"interface"},{"res":169.8,"dsasa":-0.45,"seg":14,"region":"interface"},{"res":170.4,"dsasa":-0.3,"seg":14,"region":"interface"},{"res":170.9,"dsasa":-0.1,"seg":14,"region":"interface"},{"res":171.6,"dsasa":-0.1,"seg":14,"region":"interface"},
{"res":171.6,"dsasa":-0.1,"seg":15,"region":"other"},{"res":172,"dsasa":-0.25,"seg":15,"region":"other"},{"res":172.5,"dsasa":-0.3,"seg":15,"region":"other"},{"res":173,"dsasa":-0.1,"seg":15,"region":"other"},{"res":173.4,"dsasa":0.05,"seg":15,"region":"other"},{"res":173.9,"dsasa":-0.15,"seg":15,"region":"other"},{"res":174.2,"dsasa":-0.2,"seg":15,"region":"other"},{"res":174.7,"dsasa":-0.3,"seg":15,"region":"other"},
{"res":174.7,"dsasa":-0.3,"seg":16,"region":"interface"},{"res":175.2,"dsasa":-0.4,"seg":16,"region":"interface"},{"res":175.8,"dsasa":-0.9,"seg":16,"region":"interface"},{"res":176.2,"dsasa":-1.05,"seg":16,"region":"interface"},{"res":176.6,"dsasa":-0.7,"seg":16,"region":"interface"},{"res":177,"dsasa":-0.25,"seg":16,"region":"interface"},{"res":177.4,"dsasa":-0.2,"seg":16,"region":"interface"},
{"res":177.4,"dsasa":-0.2,"seg":17,"region":"other"},{"res":177.9,"dsasa":-0.1,"seg":17,"region":"other"},{"res":178.4,"dsasa":-0.35,"seg":17,"region":"other"},{"res":178.8,"dsasa":-0.38,"seg":17,"region":"other"},{"res":179.3,"dsasa":-0.1,"seg":17,"region":"other"},{"res":179.7,"dsasa":0,"seg":17,"region":"other"},
{"res":179.7,"dsasa":0,"seg":18,"region":"interface"},{"res":180.1,"dsasa":-0.3,"seg":18,"region":"interface"},{"res":180.4,"dsasa":-1.2,"seg":18,"region":"interface"},{"res":180.7,"dsasa":-1.93,"seg":18,"region":"interface"},{"res":181,"dsasa":-1.0,"seg":18,"region":"interface"},{"res":181.4,"dsasa":-0.4,"seg":18,"region":"interface"},{"res":181.9,"dsasa":-0.05,"seg":18,"region":"interface"},{"res":182.3,"dsasa":-0.05,"seg":18,"region":"interface"},{"res":182.8,"dsasa":-0.3,"seg":18,"region":"interface"},{"res":183.2,"dsasa":-0.9,"seg":18,"region":"interface"},{"res":183.7,"dsasa":-1.25,"seg":18,"region":"interface"},{"res":184,"dsasa":-1.53,"seg":18,"region":"interface"},{"res":184.4,"dsasa":-0.9,"seg":18,"region":"interface"},{"res":184.9,"dsasa":-0.3,"seg":18,"region":"interface"},{"res":185.4,"dsasa":-0.15,"seg":18,"region":"interface"}
],
"contacts": [
{"resX":36,"resY":172.5,"value":12},{"resX":48.5,"resY":176.7,"value":12},
{"resX":105,"resY":168,"value":12},{"resX":106,"resY":169,"value":12},{"resX":107,"resY":170,"value":12},{"resX":107.5,"resY":171,"value":12},{"resX":106.5,"resY":167.5,"value":12},{"resX":105.5,"resY":169.5,"value":12},
{"resX":28,"resY":153.6,"value":12},{"resX":28,"resY":150.5,"value":12},{"resX":13,"resY":140.5,"value":12},{"resX":17.5,"resY":140.5,"value":12},{"resX":28.5,"resY":142,"value":12},{"resX":30,"resY":142,"value":12},{"resX":31.5,"resY":142,"value":12},{"resX":33,"resY":141.5,"value":12},{"resX":34,"resY":140.5,"value":12},{"resX":35,"resY":139,"value":12},{"resX":35.5,"resY":137.7,"value":12},{"resX":34.5,"resY":135,"value":12},{"resX":32,"resY":122,"value":12},
{"resX":60,"resY":121,"value":12},{"resX":61,"resY":121,"value":12},{"resX":62,"resY":121,"value":12},{"resX":69,"resY":122,"value":12},{"resX":70,"resY":121,"value":12},{"resX":70.5,"resY":119.5,"value":12},{"resX":69,"resY":126.6,"value":12},{"resX":73,"resY":127.5,"value":12},{"resX":70,"resY":106.5,"value":12},{"resX":73,"resY":105.5,"value":12},{"resX":74,"resY":106.5,"value":12},
{"resX":103.5,"resY":128,"value":12},{"resX":101.5,"resY":105.5,"value":12},{"resX":102.5,"resY":104.5,"value":12},
{"resX":177.5,"resY":184.5,"value":20},{"resX":178.5,"resY":184,"value":20},{"resX":179.5,"resY":183.5,"value":20},{"resX":180,"resY":182.5,"value":12},{"resX":181,"resY":182,"value":12},{"resX":182,"resY":181.5,"value":12},{"resX":181,"resY":183,"value":12},{"resX":179,"resY":181,"value":12},
{"resX":142,"resY":173.5,"value":12},{"resX":142,"resY":172.5,"value":12},{"resX":149,"resY":172,"value":12},{"resX":150,"resY":173,"value":12},{"resX":150.5,"resY":174,"value":12},{"resX":148.5,"resY":171,"value":12},
{"resX":166,"resY":168.5,"value":12},{"resX":166.5,"resY":169.5,"value":12},
{"resX":166,"resY":155,"value":12},{"resX":167,"resY":155,"value":12},{"resX":166.5,"resY":153.5,"value":12},{"resX":166,"resY":150.5,"value":12},{"resX":167,"resY":150,"value":12},{"resX":168,"resY":150.5,"value":12},
{"resX":148.5,"resY":145.5,"value":12},{"resX":151,"resY":150,"value":12},
{"resX":119.5,"resY":122,"value":12},{"resX":120,"resY":121,"value":12},
{"resX":122,"resY":106,"value":12},{"resX":123,"resY":106.5,"value":12},{"resX":124,"resY":107,"value":12},{"resX":128.8,"resY":104,"value":12},{"resX":129,"resY":103,"value":12},
{"resX":147,"resY":120.6,"value":12},{"resX":148,"resY":120,"value":12},{"resX":147.5,"resY":108,"value":20},{"resX":148.5,"resY":107,"value":12},{"resX":147,"resY":106.5,"value":20},{"resX":148,"resY":109,"value":12},{"resX":148,"resY":102,"value":12},{"resX":148.7,"resY":95,"value":20},{"resX":149.5,"resY":94,"value":12},{"resX":148.5,"resY":93.5,"value":12},
{"resX":30,"resY":69.8,"value":12},{"resX":31,"resY":69.8,"value":12},{"resX":32,"resY":69.8,"value":12},{"resX":33,"resY":69,"value":12},{"resX":34,"resY":68.6,"value":12},{"resX":35.6,"resY":59.8,"value":12},
{"resX":2.4,"resY":45,"value":12},{"resX":2.4,"resY":44,"value":12},{"resX":2.4,"resY":43,"value":12},
{"resX":38.3,"resY":39.4,"value":12},{"resX":38.8,"resY":39.8,"value":12},
{"resX":65.5,"resY":27.2,"value":20},{"resX":66,"resY":26.3,"value":12},{"resX":65.3,"resY":25.7,"value":12},
{"resX":98.8,"resY":26.3,"value":12},{"resX":106.7,"resY":45.3,"value":12},
{"resX":122,"resY":75.5,"value":12},{"resX":122.5,"resY":75,"value":12},{"resX":127,"resY":69,"value":12},
{"resX":121.4,"resY":30.8,"value":12},{"resX":122,"resY":30.8,"value":12},{"resX":126,"resY":27.2,"value":12},{"resX":126.7,"resY":26.5,"value":12},{"resX":127.4,"resY":26,"value":12},
{"resX":148.4,"resY":36,"value":12},{"resX":149,"resY":36,"value":12},{"resX":148.7,"resY":25,"value":12}
],
"regions": [
{"resX":35.9,"resY":174.3,"span":13.1,"form":"wide13"},
{"resX":48.4,"resY":176.9,"span":10.3,"form":"tall75"},
{"resX":105.1,"resY":169.2,"span":15.8,"form":"wide15"},
{"resX":31.0,"resY":144.2,"span":28.6,"form":"tall63"},
{"resX":68.6,"resY":115.2,"span":28.6,"form":"tall84"},
{"resX":101.5,"resY":105.9,"span":10.3,"form":"tall75"},
{"resX":119.0,"resY":121.8,"span":10.6,"form":"tall75"},
{"resX":179.7,"resY":182.0,"span":13.1,"form":"wide13"},
{"resX":165.6,"resY":170.4,"span":7.5,"form":"tall75"},
{"resX":145.7,"resY":174.3,"span":15.8,"form":"wide15"},
{"resX":166.4,"resY":151.9,"span":13.1,"form":"round"},
{"resX":147.0,"resY":144.2,"span":13.1,"form":"round"},
{"resX":124.2,"resY":104.4,"span":13.1,"form":"round"},
{"resX":147.0,"resY":107.3,"span":33.6,"form":"tall39"},
{"resX":33.4,"resY":66.6,"span":15.6,"form":"tall84"},
{"resX":65.0,"resY":26.0,"span":10.6,"form":"wide13"},
{"resX":97.7,"resY":26.0,"span":10.6,"form":"wide13"},
{"resX":121.4,"resY":73.2,"span":13.3,"form":"round"},
{"resX":124.2,"resY":28.6,"span":13.3,"form":"round"},
{"resX":148.1,"resY":37.7,"span":10.6,"form":"round"}
],
"labels": [
{"label":"Ln-SI","resX":22.0,"resY":171.8},
{"label":"Ln-β2","resX":62.9,"resY":166.1},
{"label":"α3,L7- Ln","resX":102.9,"resY":156.2},
{"label":"SI- α4,L9,β6","resX":31.0,"resY":120.9},
{"label":"SII-L7,L8","resX":62.6,"resY":95.3},
{"label":"α3-α3","resX":98.3,"resY":118.9},
{"label":"L8-L8","resX":115.7,"resY":134.6},
{"label":"An-An","resX":164.5,"resY":182.6},
{"label":"α5 -α5","resX":163.9,"resY":176.3},
{"label":"Ln-β6,L10","resX":141.9,"resY":163.5},
{"label":"L10-α5","resX":170.5,"resY":140.0},
{"label":"L10-L10","resX":149.5,"resY":134.8},
{"label":"L7-L8,α4","resX":122.8,"resY":93.1},
{"label":"L10-α3,L7,L8","resX":156.0,"resY":82.3},
{"label":"α2-L8","resX":123.3,"resY":61.2},
{"label":"SI-SII","resX":20.6,"resY":81.1},
{"label":"α1,L2-L8,α4","resX":121.7,"resY":39.9},
{"label":"L10-SI","resX":154.7,"resY":26.9},
{"label":"SII-α1,L2","resX":61.5,"resY":15.8},
{"label":"α3,L7- α1,L2","resX":102.1,"resY":13.8}
],
"structure": [
{"start":4.1,"end":12.8,"kind":"strand"},
{"start":17.3,"end":27.7,"kind":"helix"},
{"start":38,"end":48.6,"kind":"strand"},
{"start":50,"end":60.5,"kind":"strand"},
{"start":66.9,"end":75.2,"kind":"helix"},
{"start":77.7,"end":85.2,"kind":"strand"},
{"start":87.7,"end":107,"kind":"helix"},
{"start":111.4,"end":118,"kind":"strand"},
{"start":127.3,"end":138.7,"kind":"helix"},
{"start":141.2,"end":145.8,"kind":"strand"},
{"start":152,"end":166.7,"kind":"helix"}
],
"bins": [
{"lo":10,"hi":17.5},
{"lo":17.5,"hi":25}
]
},
"layer": [
{
  "data": {"name": "panelA"},
  "layer": [
    {
      "mark": {"type": "line", "strokeWidth": 1.3},
      "encoding": {
        "x": {"field": "res", "type": "quantitative",
          "scale": {"domain": [0, 185], "range": [127, 787], "nice": false, "zero": false},
          "axis": {"orient": "top", "offset": -20, "values": [5,15,25,35,45,55,65,75,85,95,105,115,125,135,145,155,165,175,185], "grid": true, "domain": false, "ticks": false, "labels": false, "title": null}},
        "y": {"field": "dsasa", "type": "quantitative",
          "scale": {"domain": [-1.65, 0.5], "range": [341, 20], "nice": false, "zero": false},
          "axis": {"orient": "left", "offset": -127, "values": [-1.5,-1.25,-1,-0.75,-0.5,-0.25,0,0.25,0.5],
            "grid": true, "gridOpacity": {"condition": {"test": "datum.value % 0.5 === 0", "value": 0}, "value": 1},
            "tickSize": {"condition": {"test": "datum.value % 0.5 === 0", "value": 11}, "value": 7},
            "tickWidth": 1.5, "domainWidth": 2,
            "labelExpr": "datum.value % 0.5 === 0 ? replace(format(datum.value, '.1f'), '\u2212', '-') : ''",
            "labelFontSize": 18, "labelPadding": 8, "labelColor": "#333",
            "title": "ΔSASA(nm²)", "titleFontSize": 30, "titleX": -90, "titleY": 202, "titleBaseline": "middle", "titleAlign": "center"}},
        "color": {"field": "region", "type": "nominal", "scale": {"domain": ["interface", "other"], "range": ["#ff0000", "#000000"]}, "legend": null},
        "detail": {"field": "seg"}
      }
    },
    {
      "data": {"values": [{}]},
      "mark": {"type": "text", "text": "a", "font": "Lato", "fontWeight": "bold", "fontSize": 30, "align": "center", "baseline": "alphabetic", "color": "#000"},
      "encoding": {"x": {"datum": 11.5, "axis": null}, "y": {"datum": -1.32, "axis": null}}
    }
  ],
  "resolve": {"axis": {"x": "independent", "y": "independent"}}
},
{
  "layer": [
    {
      "data": {"name": "contacts"},
      "mark": {"type": "point", "shape": "square", "filled": true, "size": 10, "opacity": 0.5},
      "encoding": {
        "x": {"field": "resX", "type": "quantitative",
          "scale": {"domain": [1, 186], "range": [126, 805], "nice": false, "zero": false},
          "axis": {"orient": "bottom", "offset": -604, "values": [5,10,15,20,25,30,35,40,45,50,55,60,65,70,75,80,85,90,95,100,105,110,115,120,125,130,135,140,145,150,155,160,165,170,175,180,185], "domain": false, "labels": false, "grid": false, "tickSize": 4, "tickWidth": 1.5, "title": null}},
        "y": {"field": "resY", "type": "quantitative",
          "scale": {"domain": [1, 186], "range": [1004, 353], "nice": false, "zero": false},
          "axis": {"orient": "left", "offset": -126, "values": [5,10,15,20,25,30,35,40,45,50,55,60,65,70,75,80,85,90,95,100,105,110,115,120,125,130,135,140,145,150,155,160,165,170,175,180,185],
            "domain": false, "grid": false,
            "tickSize": {"condition": {"test": "datum.value % 10 === 0", "value": 12}, "value": 7},
            "tickWidth": 2,
            "labelExpr": "datum.value % 10 === 0 ? format(datum.value, 'd') : ''",
            "labelFontSize": 24, "labelPadding": 10, "labelColor": "#111",
            "title": "Residue", "titleFontSize": 28, "titleX": -100, "titleY": 686, "titleBaseline": "middle", "titleAlign": "center"}},
        "color": {"field": "value", "type": "quantitative", "scale": {"type": "threshold", "domain": [17.5], "range": ["#0000ff", "#ff0000"]}, "legend": null}
      }
    },
    {
      "data": {"name": "regions"},
      "mark": {"type": "point", "filled": false, "color": "#000", "strokeWidth": 1.8, "opacity": 1},
      "encoding": {
        "x": {"field": "resX", "type": "quantitative", "axis": null},
        "y": {"field": "resY", "type": "quantitative", "axis": null},
        "shape": {"field": "form", "type": "nominal", "legend": null,
          "scale": {"domain": ["round", "wide13", "wide15", "tall75", "tall63", "tall84", "tall39"],
            "range": [
              "M1,0C1,0.552 0.552,1 0,1C-0.552,1 -1,0.552 -1,0C-1,-0.552 -0.552,-1 0,-1C0.552,-1 1,-0.552 1,0Z",
              "M1,0C1,0.431 0.552,0.78 0,0.78C-0.552,0.78 -1,0.431 -1,0C-1,-0.431 -0.552,-0.78 0,-0.78C0.552,-0.78 1,-0.431 1,0Z",
              "M1,0C1,0.364 0.552,0.66 0,0.66C-0.552,0.66 -1,0.364 -1,0C-1,-0.364 -0.552,-0.66 0,-0.66C0.552,-0.66 1,-0.364 1,0Z",
              "M0.75,0C0.75,0.552 0.414,1 0,1C-0.414,1 -0.75,0.552 -0.75,0C-0.75,-0.552 -0.414,-1 0,-1C0.414,-1 0.75,-0.552 0.75,0Z",
              "M0.63,0C0.63,0.552 0.348,1 0,1C-0.348,1 -0.63,0.552 -0.63,0C-0.63,-0.552 -0.348,-1 0,-1C0.348,-1 0.63,-0.552 0.63,0Z",
              "M0.84,0C0.84,0.552 0.464,1 0,1C-0.464,1 -0.84,0.552 -0.84,0C-0.84,-0.552 -0.464,-1 0,-1C0.464,-1 0.84,-0.552 0.84,0Z",
              "M0.39,0C0.39,0.552 0.215,1 0,1C-0.215,1 -0.39,0.552 -0.39,0C-0.39,-0.552 -0.215,-1 0,-1C0.215,-1 0.39,-0.552 0.39,0Z"
            ]}},
        "size": {"field": "span", "type": "quantitative", "legend": null, "scale": {"type": "pow", "exponent": 2, "domain": [0, 40], "range": [0, 20736], "zero": true, "nice": false}}
      }
    },
    {
      "data": {"name": "labels"},
      "mark": {"type": "text", "font": "Liberation Sans", "fontSize": 21, "align": "center", "baseline": "middle", "color": "#111"},
      "encoding": {
        "x": {"field": "resX", "type": "quantitative", "axis": null},
        "y": {"field": "resY", "type": "quantitative", "axis": null},
        "text": {"field": "label"}
      }
    },
    {
      "data": {"values": [{}]},
      "mark": {"type": "rule", "color": "#000", "strokeWidth": 4},
      "encoding": {"x": {"datum": 1, "axis": null}, "y": {"datum": 1, "axis": null}, "x2": {"datum": 186}, "y2": {"datum": 186}}
    },
    {
      "data": {"values": [{}]},
      "mark": {"type": "rect", "filled": false, "color": "#000", "strokeWidth": 2.5},
      "encoding": {"x": {"datum": 1, "axis": null}, "y": {"datum": 1, "axis": null}, "x2": {"datum": 186}, "y2": {"datum": 186}}
    },
    {
      "data": {"values": [{}]},
      "mark": {"type": "text", "text": "b", "font": "Lato", "fontWeight": "bold", "fontSize": 30, "align": "center", "baseline": "alphabetic", "color": "#000"},
      "encoding": {"x": {"datum": 13, "axis": null}, "y": {"datum": 38.2, "axis": null}}
    }
  ],
  "resolve": {"axis": {"x": "independent", "y": "independent"}}
},
{
  "layer": [
    {
      "data": {"values": [{}]},
      "mark": {"type": "rule", "color": "#d2d2d2", "strokeWidth": 2},
      "encoding": {"x": {"datum": 4, "axis": null}, "x2": {"datum": 166.7}, "y": {"datum": -2.967, "axis": null}}
    },
    {
      "data": {"name": "structure"},
      "mark": {"type": "rect", "cornerRadius": 2},
      "encoding": {
        "x": {"field": "start", "type": "quantitative",
          "axis": {"orient": "top", "offset": -1005, "values": [5,15,25,35,45,55,65,75,85,95,105,115,125,135,145,155,165,175,185], "grid": true, "domain": false, "ticks": false, "labels": false, "title": null}},
        "x2": {"field": "end"},
        "y": {"datum": -2.928, "axis": null},
        "y2": {"datum": -2.972},
        "fill": {"field": "kind", "type": "nominal", "scale": {"domain": ["helix", "strand"], "range": ["#c0504d", "#4f81bd"]}, "legend": null}
      }
    },
    {
      "data": {"name": "panelC"},
      "mark": {"type": "line", "strokeWidth": 1.3},
      "encoding": {
        "x": {"field": "res", "type": "quantitative",
          "scale": {"domain": [0, 185], "range": [123, 804.4], "nice": false, "zero": false},
          "axis": {"orient": "bottom", "offset": -75, "values": [0,5,10,15,20,25,30,35,40,45,50,55,60,65,70,75,80,85,90,95,100,105,110,115,120,125,130,135,140,145,150,155,160,165,170,175,180,185],
            "grid": false, "domainWidth": 2,
            "tickSize": {"condition": {"test": "datum.value % 10 === 0", "value": 12}, "value": 5},
            "tickWidth": 1.5,
            "labelExpr": "datum.value % 10 === 0 ? format(datum.value, 'd') : ''",
            "labelFontSize": 19, "labelPadding": 7, "labelColor": "#1c1c2a",
            "title": "Residue", "titleFont": "Liberation Sans", "titleFontSize": 19, "titleX": 417, "titleY": 62, "titleBaseline": "middle", "titleAlign": "center"}},
        "y": {"field": "dsasa", "type": "quantitative",
          "scale": {"domain": [-3.0, 0.69], "range": [1533, 1005], "nice": false, "zero": false},
          "axis": {"orient": "left", "offset": -123, "values": [-3,-2.75,-2.5,-2.25,-2,-1.75,-1.5,-1.25,-1,-0.75,-0.5,-0.25,0,0.25,0.5],
            "grid": true, "gridOpacity": {"condition": {"test": "datum.value % 0.5 === 0", "value": 0}, "value": 1},
            "tickSize": {"condition": {"test": "datum.value % 0.5 === 0", "value": 10}, "value": 5},
            "tickWidth": 1.5, "domainWidth": 1.8,
            "labelExpr": "datum.value % 0.5 === 0 ? replace(format(datum.value, '.1f'), '\u2212', '-') : ''",
            "labelFontSize": 18, "labelPadding": 10, "labelColor": "#1c1c2a",
            "title": "ΔSASA(nm²)", "titleFontSize": 30, "titleX": -96, "titleY": 1328, "titleBaseline": "middle", "titleAlign": "center"}},
        "color": {"field": "region", "type": "nominal", "scale": {"domain": ["interface", "other"], "range": ["#ff0000", "#000000"]}, "legend": null},
        "detail": {"field": "seg"}
      }
    },
    {
      "data": {"values": [{}]},
      "mark": {"type": "text", "text": "c", "font": "Lato", "fontWeight": "bold", "fontSize": 30, "align": "center", "baseline": "alphabetic", "color": "#000"},
      "encoding": {"x": {"datum": 11.95, "axis": null}, "y": {"datum": -2.45, "axis": null}}
    }
  ],
  "resolve": {"axis": {"x": "independent", "y": "independent"}}
},
{
  "layer": [
    {
      "data": {"name": "bins"},
      "mark": {"type": "rect"},
      "encoding": {
        "x": {"datum": 0, "scale": {"domain": [0, 1], "range": [869, 924], "nice": false, "zero": false}, "axis": null},
        "x2": {"datum": 1},
        "y": {"field": "lo", "type": "quantitative",
          "scale": {"domain": [10, 25], "range": [511, 753], "nice": false, "zero": false},
          "axis": {"orient": "right", "offset": -63, "values": [10, 12.5, 15, 17.5, 20, 22.5], "format": ".2f", "domain": false, "ticks": false, "grid": false, "labelFontSize": 20, "labelPadding": 9, "labelColor": "#111", "title": null}},
        "y2": {"field": "hi"},
        "color": {"field": "lo", "type": "quantitative", "scale": {"type": "threshold", "domain": [17.5], "range": ["#0000ff", "#ff0000"]}, "legend": null}
      }
    },
    {
      "data": {"values": [{}]},
      "mark": {"type": "text", "text": "(X10⁻⁹)", "font": "Liberation Sans", "fontSize": 26, "align": "center", "baseline": "middle", "color": "#111"},
      "encoding": {"x": {"datum": 0.96, "axis": null}, "y": {"datum": 27.7, "axis": null}}
    }
  ],
  "resolve": {"axis": {"x": "independent", "y": "independent"}}
}
],
"resolve": {
  "scale": {"x": "independent", "y": "independent", "color": "independent", "fill": "independent", "shape": "independent", "size": "independent"},
  "axis": {"x": "independent", "y": "independent"}
}
}
